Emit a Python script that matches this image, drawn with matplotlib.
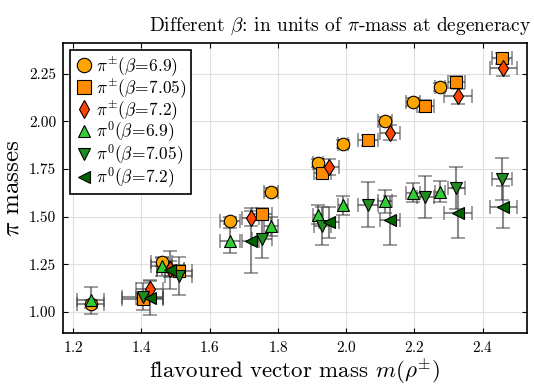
import matplotlib
matplotlib.use("Agg")
import matplotlib.pyplot as plt

plt.rcParams["font.family"] = "serif"
plt.rcParams["font.serif"] = ["cmr10"]
plt.rcParams["mathtext.fontset"] = "cm"
plt.rcParams["axes.formatter.use_mathtext"] = True

# charged pions
x_c69 = [1.251, 1.459, 1.659, 1.779, 1.917, 1.991, 2.113, 2.196, 2.275]
y_c69 = [1.04, 1.26, 1.479, 1.63, 1.78, 1.88, 2.00, 2.10, 2.18]
xe_c69 = [0.04, 0.03, 0.03, 0.02, 0.015, 0.015, 0.02, 0.02, 0.015]
ye_c69 = [0.02, 0.02, 0.02, 0.02, 0.02, 0.02, 0.02, 0.02, 0.02]

x_c705 = [1.404, 1.509, 1.753, 1.93, 2.064, 2.231, 2.322, 2.457]
y_c705 = [1.07, 1.216, 1.516, 1.73, 1.90, 2.08, 2.205, 2.33]
xe_c705 = [0.06, 0.04, 0.03, 0.025, 0.03, 0.025, 0.025, 0.03]
ye_c705 = [0.03, 0.03, 0.03, 0.03, 0.03, 0.03, 0.03, 0.03]

x_c72 = [1.424, 1.485, 1.72, 1.95, 2.128, 2.328, 2.46]
y_c72 = [1.12, 1.225, 1.49, 1.76, 1.94, 2.13, 2.28]
xe_c72 = [0.04, 0.04, 0.025, 0.03, 0.03, 0.04, 0.04]
ye_c72 = [0.04, 0.04, 0.04, 0.04, 0.04, 0.04, 0.04]

# neutral pions
x_n69 = x_c69
y_n69 = [1.06, 1.24, 1.374, 1.45, 1.51, 1.56, 1.58, 1.626, 1.63]
ye_n69 = [0.07, 0.05, 0.065, 0.05, 0.05, 0.05, 0.06, 0.05, 0.055]

x_n705 = x_c705
y_n705 = [1.08, 1.19, 1.38, 1.45, 1.563, 1.605, 1.65, 1.695]
ye_n705 = [0.07, 0.1, 0.1, 0.1, 0.12, 0.11, 0.11, 0.11]

x_n72 = x_c72
y_n72 = [1.075, 1.22, 1.374, 1.47, 1.48, 1.52, 1.55]
ye_n72 = [0.09, 0.1, 0.17, 0.08, 0.13, 0.13, 0.11]

series = [
    (x_c69, y_c69, xe_c69, ye_c69, "o", "#FFA500", r"$\pi^{\pm}(\beta\!=\!6.9)$", 9),
    (x_c705, y_c705, xe_c705, ye_c705, "s", "#FF8C00", r"$\pi^{\pm}(\beta\!=\!7.05)$", 9),
    (x_c72, y_c72, xe_c72, ye_c72, "d", "#FF4500", r"$\pi^{\pm}(\beta\!=\!7.2)$", 8),
    (x_n69, y_n69, xe_c69, ye_n69, "^", "#32CD32", r"$\pi^{0}(\beta\!=\!6.9)$", 8),
    (x_n705, y_n705, xe_c705, ye_n705, "v", "#228B22", r"$\pi^{0}(\beta\!=\!7.05)$", 8),
    (x_n72, y_n72, xe_c72, ye_n72, "<", "#006400", r"$\pi^{0}(\beta\!=\!7.2)$", 8),
]

fig = plt.figure(figsize=(5.34, 3.92), dpi=100)
ax = fig.add_axes([0.118, 0.151, 0.869, 0.739])

for x, y, xe, ye, m, c, lab, ms in series:
    ax.errorbar(x, y, xerr=xe, yerr=ye, fmt="none", ecolor="0.25", alpha=0.6,
                elinewidth=1.5, capsize=5, capthick=1.2, zorder=2)
    ax.plot(x, y, m, color=c, mec="k", mew=0.8, ms=ms, label=lab, zorder=3)

ax.set_xlim(1.17, 2.53)
ax.set_ylim(0.89, 2.41)
ax.set_yticks([1.0, 1.25, 1.5, 1.75, 2.0, 2.25])
ax.set_yticklabels(["1.00", "1.25", "1.50", "1.75", "2.00", "2.25"])
ax.set_xticks([1.2, 1.4, 1.6, 1.8, 2.0, 2.2, 2.4])
ax.grid(True, color="0.88", lw=0.8)
ax.set_axisbelow(True)
ax.tick_params(direction="in", top=True, right=True, labelsize=11, pad=5)
for s in ax.spines.values():
    s.set_linewidth(1.2)

ax.set_title(r"Different $\beta$: in units of $\pi$-mass at degeneracy",
             fontsize=14, pad=9, x=0.597)
ax.set_xlabel(r"flavoured vector mass $m(\rho^{\pm})$", fontsize=16.5, labelpad=1)
ax.set_ylabel(r"$\pi$ masses", fontsize=18, labelpad=4)

leg = ax.legend(loc="upper left", numpoints=1, fontsize=12.5, fancybox=False,
                framealpha=1, edgecolor="k", handletextpad=0.15,
                borderpad=0.25, labelspacing=-0.12, handlelength=1.1,
                borderaxespad=0.4, markerscale=1.15)
leg.get_frame().set_linewidth(1.2)

fig.savefig("out.png", dpi=100)
